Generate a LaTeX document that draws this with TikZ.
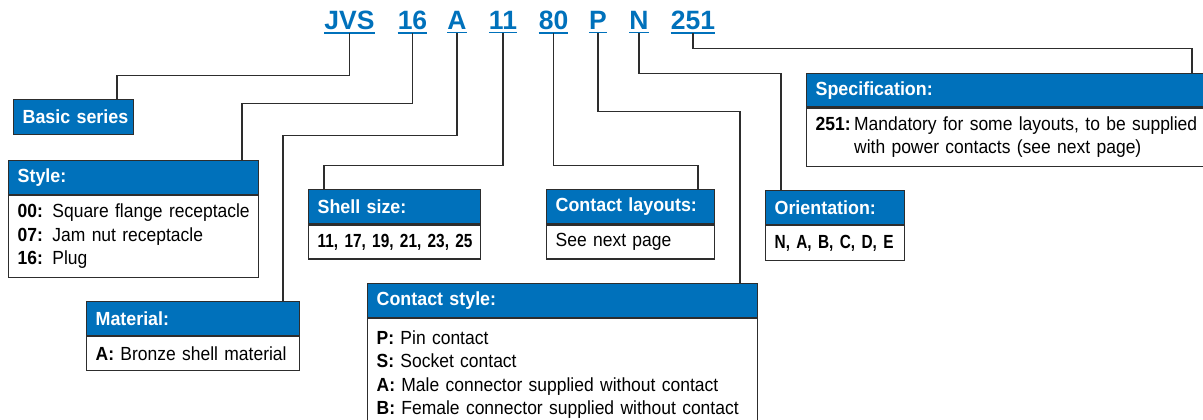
\documentclass[tikz,border=0pt]{standalone}
\usepackage{fontspec}
\setmainfont{Liberation Sans}
\newfontfamily\condfont[FakeStretch=0.92]{Liberation Sans}
\newfontfamily\hdrfont[FakeStretch=0.94]{Liberation Sans}
\newfontfamily\narrowbold[FakeStretch=0.81]{Liberation Sans}
\definecolor{hblue}{RGB}{0,113,187}
\definecolor{lineg}{RGB}{45,45,45}
\begin{document}
\begin{tikzpicture}[x=1pt,y=-1pt,
  conn/.style={draw=lineg, line width=1.3pt},
  hdr/.style={draw=lineg, line width=1.3pt, fill=hblue, text=white,
    font=\hdrfont\bfseries\fontsize{19}{23}\selectfont, anchor=north west,
    inner xsep=9pt, inner ysep=0pt, minimum height=33.5pt, align=left},
  bodybox/.style={draw=lineg, line width=1.3pt, fill=white,
    font=\condfont\fontsize{19}{23.5}\selectfont, anchor=north west,
    inner xsep=9pt, inner ysep=0pt, align=left},
  code/.style={text=hblue, font=\bfseries\fontsize{26.5}{30}\selectfont,
    anchor=base, inner sep=0pt}
]
\useasboundingbox (0,0) rectangle (1203,420);

% code letters
\node[code] (cJVS) at (349.5,30) {JVS};
\node[code] (c16)  at (412.5,30) {16};
\node[code] (cA)   at (457,30) {A};
\node[code] (c11)  at (503,30) {11};
\node[code] (c80)  at (553.5,30) {80};
\node[code] (cP)   at (598,30) {P};
\node[code] (cN)   at (639,30) {N};
\node[code] (c251) at (693,30) {251};
\foreach \n in {cJVS,c16,cA,c11,c80,cP,cN,c251}
  \draw[hblue, line width=1.6pt] ([yshift=-2.5pt]\n.south west) -- ([yshift=-2.5pt]\n.south east);

% boxes
\node[hdr, text width=102pt, minimum height=35pt] (basic) at (13,99) {\mbox{Basic series}};

\node[hdr, text width=232pt] (styleH) at (8,160) {Style:};
\node[bodybox, text width=232pt, minimum height=82pt] (styleB) at (styleH.south west)
  {\mbox{\textbf{00:} Square flange receptacle}\\ \mbox{\textbf{07:} Jam nut receptacle}\\ \mbox{\textbf{16:} Plug}};

\node[hdr, text width=195pt] (matH) at (86,301) {Material:};
\node[bodybox, text width=195pt, minimum height=34pt] (matB) at (matH.south west)
  {\mbox{\textbf{A:} Bronze shell material}};

\node[hdr, text width=154pt, minimum height=34pt] (shellH) at (308,189) {\mbox{Shell size:}};
\node[bodybox, text width=154pt, minimum height=34pt] (shellB) at (shellH.south west)
  {\mbox{\narrowbold\bfseries 11, 17, 19, 21, 23, 25}};

\node[hdr, text width=150pt, minimum height=34pt] (layH) at (546,189) {\mbox{Contact layouts:}};
\node[bodybox, text width=150pt, minimum height=34pt] (layB) at (layH.south west)
  {\mbox{See next page}};

\node[hdr, text width=372pt] (csH) at (367,283) {\mbox{Contact style:}};
\node[bodybox, text width=372pt, minimum height=112pt] (csB) at (csH.south west)
  {\mbox{\textbf{P:} Pin contact}\\ \mbox{\textbf{S:} Socket contact}\\
   \mbox{\textbf{A:} Male connector supplied without contact}\\
   \mbox{\textbf{B:} Female connector supplied without contact}};

\node[hdr, text width=121pt] (oriH) at (765,190) {\mbox{Orientation:}};
\node[bodybox, text width=121pt, minimum height=35pt] (oriB) at (oriH.south west)
  {\mbox{\narrowbold\bfseries N, A, B, C, D, E}};

\node[hdr, text width=386pt] (specH) at (806,73) {\mbox{Specification:}};
\node[bodybox, text width=386pt, minimum height=58pt] (specB) at (specH.south west)
  {\begin{tabular}{@{}l@{\hspace{3.5pt}}l@{}}\textbf{251:} & Mandatory for some layouts, to be supplied\\
   & with power contacts (see next page)\end{tabular}};

% connectors
\draw[conn] ([yshift=-3pt]cJVS.south) -- ++(0,42) -| ([xshift=104pt]basic.north west);
\draw[conn] ([yshift=-3pt]c16.south) -- ++(0,70) -| ([xshift=234pt]styleH.north west);
\draw[conn] ([yshift=-3pt]cA.south) -- ++(0,102) -| ([xshift=197pt]matH.north west);
\draw[conn] ([yshift=-3pt]c11.south) -- ++(0,132) -| ([xshift=16pt]shellH.north west);
\draw[conn] ([yshift=-3pt]c80.south) -- ++(0,132) -| ([xshift=152pt]layH.north west);
\draw[conn] ([yshift=-3pt]cP.south) -- ++(0,78) -| ([xshift=373pt]csH.north west);
\draw[conn] ([yshift=-3pt]cN.south) -- ++(0,40) -| ([xshift=16pt]oriH.north west);
\draw[conn] ([yshift=-3pt]c251.south) -- ++(0,15) -| ([xshift=386pt]specH.north west);
\end{tikzpicture}
\end{document}
